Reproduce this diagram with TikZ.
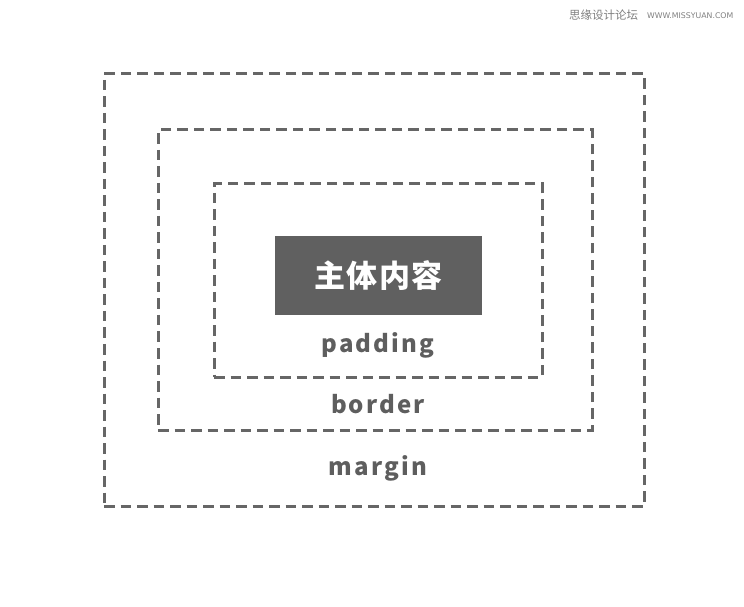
\documentclass[tikz,border=0pt]{standalone}
\usepackage{fontspec}
\newfontfamily\cjk{Noto Sans CJK SC}
\newfontfamily\lab{Noto Sans CJK SC}[LetterSpace=9]
\newfontfamily\wm{DejaVu Sans}
\definecolor{linegray}{HTML}{666666}
\definecolor{boxgray}{HTML}{606060}
\definecolor{textgray}{HTML}{5E5E5E}
\definecolor{wmgray}{HTML}{808080}
\tikzset{
  dashbox/.style={draw=linegray, line width=3pt, dash pattern=on 10.5pt off 6pt, inner sep=0pt},
  contentbox/.style={fill=boxgray, inner sep=0pt, text=white, font=\cjk\bfseries\fontsize{31}{34}\selectfont},
  boxlabel/.style={text=textgray, inner sep=0pt, font=\lab\bfseries\fontsize{24}{28}\selectfont},
  wmtext/.style={text=wmgray, inner sep=0pt, anchor=west}
}
\begin{document}
\begin{tikzpicture}[x=1pt,y=1pt]
\useasboundingbox[fill=white] (0,0) rectangle (744,606);
\node[dashbox, minimum width=540pt, minimum height=432pt] (margin) at (374,316) {};
\node[dashbox, minimum width=434pt, minimum height=300pt] (border) at (375,326) {};
\node[dashbox, minimum width=328pt, minimum height=193pt] (padding) at (378,325.5) {};
\node[contentbox, minimum width=207pt, minimum height=79pt] (content) at (378.5,330.5) {主\hspace{1.5pt}体\hspace{1.5pt}内\hspace{1.5pt}容};
\node[boxlabel] (lpadding) at (378,261) {padding};
\node[boxlabel] (lborder) at (378,202) {border};
\node[boxlabel] (lmargin) at (378,138) {margin};
\node[wmtext, font=\cjk\fontsize{11.5}{12}\selectfont] (wm1) at (569,590.5) {思缘设计论坛};
\node[wmtext, font=\wm\fontsize{7.8}{9}\selectfont] (wm2) at (647,590.5) {WWW.MISSYUAN.COM};
\end{tikzpicture}
\end{document}
